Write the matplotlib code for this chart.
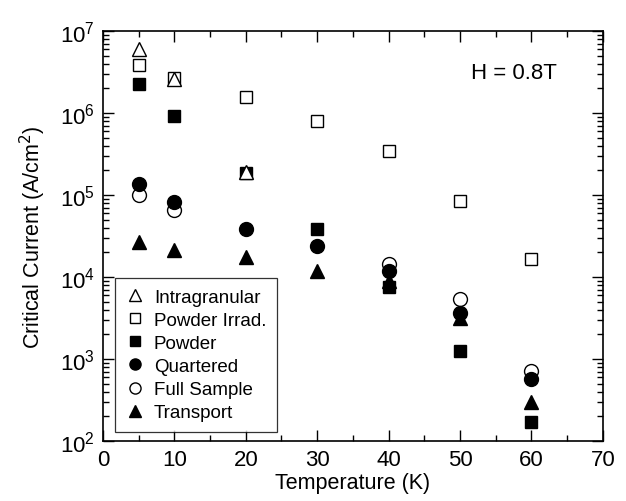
import matplotlib
matplotlib.use("Agg")
import matplotlib.pyplot as plt
from matplotlib.ticker import LogLocator, MultipleLocator, NullFormatter

plt.rcParams["font.family"] = ["Liberation Sans", "DejaVu Sans"]

temps = [5, 10, 20, 30, 40, 50, 60]

# critical current density (A/cm^2)
intragranular_t = [5, 10, 20]
intragranular = [6.0e6, 2.6e6, 1.9e5]

irrad_t = [5, 10, 20, 30, 40, 50, 60]
powder_irrad = [3.85e6, 2.7e6, 1.57e6, 8.0e5, 3.45e5, 8.5e4, 1.66e4]

powder_t = [5, 10, 20, 30, 40, 50, 60]
powder = [2.26e6, 9.2e5, 1.85e5, 3.9e4, 7.5e3, 1.25e3, 170]

quartered_t = [5, 10, 20, 30, 40, 50, 60]
quartered = [1.36e5, 8.2e4, 3.85e4, 2.4e4, 1.2e4, 3.6e3, 570]

full_t = [5, 10, 40, 50, 60]
full_sample = [1.0e5, 6.6e4, 1.44e4, 5.4e3, 714]

transport_t = [5, 10, 20, 30, 40, 50, 60]
transport = [2.67e4, 2.14e4, 1.75e4, 1.2e4, 8.9e3, 3.2e3, 300]

fig = plt.figure(figsize=(6.26, 5.02), dpi=100)
ax = fig.add_axes([0.1645, 0.1195, 0.7985, 0.8165])

ms = 10
# draw order: filled squares / triangles under circles and open marks
ax.plot(transport_t, transport, "^", ms=ms, color="black", mec="black",
        ls="none", label="Transport")
ax.plot(powder_t, powder, "s", ms=ms - 1, color="black", mec="black",
        ls="none", label="Powder")
ax.plot(full_t, full_sample, "o", ms=ms, mfc="white", mec="black", mew=1.0,
        ls="none", label="Full Sample")
ax.plot(quartered_t, quartered, "o", ms=ms, color="black", mec="black",
        ls="none", label="Quartered")
ax.plot(irrad_t, powder_irrad, "s", ms=ms - 1, mfc="white", mec="black",
        mew=1.0, ls="none", label="Powder Irrad.")
ax.plot(intragranular_t, intragranular, "^", ms=ms, mfc="white", mec="black",
        mew=1.0, ls="none", label="Intragranular")

ax.set_yscale("log")
ax.set_xlim(0, 70)
ax.set_ylim(1e2, 1e7)

ax.xaxis.set_major_locator(MultipleLocator(10))
ax.xaxis.set_minor_locator(MultipleLocator(5))
ax.yaxis.set_major_locator(LogLocator(base=10, numticks=10))
ax.yaxis.set_minor_locator(LogLocator(base=10, subs=range(2, 10), numticks=20))
ax.yaxis.set_minor_formatter(NullFormatter())

ax.tick_params(which="both", direction="in", top=True, right=True,
               labelsize=16, width=1.0)
ax.tick_params(which="major", length=8, pad=6)
ax.tick_params(which="minor", length=4)
for sp in ax.spines.values():
    sp.set_linewidth(1.2)

ax.set_xlabel("Temperature (K)", fontsize=15.5, labelpad=1)
ax.set_ylabel("Critical Current (A/cm$^2$)", fontsize=15.5, labelpad=8)

ax.text(51.5, 10 ** 6.5, "H = 0.8T", fontsize=16, ha="left", va="center")

handles, labels = ax.get_legend_handles_labels()
order = ["Intragranular", "Powder Irrad.", "Powder", "Quartered",
         "Full Sample", "Transport"]
hmap = dict(zip(labels, handles))
leg = ax.legend([hmap[k] for k in order], order, loc="upper left",
                bbox_to_anchor=(0.006, 0.42), fontsize=13.5, markerscale=0.8,
                frameon=True, fancybox=False, edgecolor="black",
                handletextpad=0.5, borderpad=0.55, labelspacing=0.32,
                handlelength=1.0)
leg.get_frame().set_linewidth(0.9)

fig.savefig("out.png", dpi=100)
